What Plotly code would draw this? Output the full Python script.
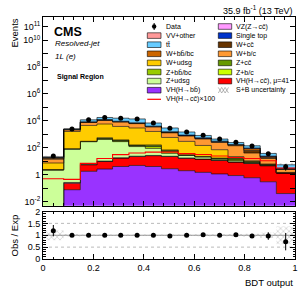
import numpy as np
import plotly.graph_objects as go

# ---------------- data ----------------
bin_edges = [0, 0.082, 0.148, 0.214, 0.276, 0.341, 0.406, 0.470, 0.537,
             0.603, 0.668, 0.734, 0.797, 0.862, 0.926, 1.0]

vh_bb   = [0.0005, 0.077, 1.8, 2.65, 4.1, 4.9, 4.1, 2.8, 2.0, 1.5, 1.15, 0.87, 0.6, 0.3, 0.04]
vh_cc   = [0.001, 0.16, 3.7, 7.0, 13.3, 18, 22, 20, 15, 13, 10.3, 7.9, 6.4, 4.4, 1.3]
vz_cc   = [0.0005, 0.01, 0.1, 0.2, 0.3, 0.4, 0.4, 0.3, 0.2, 0.15, 0.1, 0.08, 0.06, 0.03, 0.005]
vv_oth  = [0.001, 0.02, 0.3, 0.5, 0.6, 0.6, 0.6, 0.4, 0.3, 0.2, 0.15, 0.1, 0.08, 0.05, 0.01]
z_udsg  = [2.2, 80, 280, 410, 270, 100, 63, 15, 10, 6, 2.5, 2, 1, 0.3, 0.05]
z_bc    = [0.1, 3, 5, 40, 30, 15, 30, 15, 1, 1, 1, 1.5, 0.5, 0.2, 0.01]
z_cc    = [0.05, 1, 5, 30, 30, 10, 20, 8, 1, 0.5, 1.5, 3, 0.7, 0.3, 0.01]
z_bb    = [0.1, 2, 10, 70, 40, 15, 24, 8, 1, 0.5, 0.5, 1, 0.5, 0.2, 0.01]
w_udsg  = [5, 1550, 4300, 5300, 3500, 2800, 1480, 520, 270, 127, 55, 6, 1, 0.5, 0.05]
w_bc    = [7, 500, 3000, 5000, 4300, 3300, 1900, 700, 450, 300, 180, 120, 30, 10, 1.0]
w_cc    = [1.5, 100, 400, 800, 500, 400, 250, 120, 60, 45, 30, 15, 25, 3, 0.15]
w_bb    = [3, 150, 300, 500, 400, 250, 100, 70, 30, 30, 15, 12, 25, 3, 0.15]
single_top = [1, 40, 300, 400, 350, 300, 200, 100, 50, 30, 17, 8, 6, 2, 0.2]
ttbar   = [1.0, 100, 3400, 5400, 6500, 6800, 2900, 1400, 610, 275, 135, 72, 45, 14, 2.5]

vhcc_x100 = [0.5, 0.45, 7, 16, 31, 41, 48, 48, 37, 32, 25, 19, 16, 11, 3.2]

data_obs = [25, 2530, 12010, 18000, 16000, 14000, 7000, 2900, 1500, 845, 450, 255, 138, 37, 4]

rel_unc = [0.21, 0.05, 0.03, 0.03, 0.03, 0.03, 0.03, 0.03, 0.03, 0.04, 0.04, 0.05, 0.06, 0.12, 0.38]

# stack order bottom -> top
layers = [
    ("VH(H→bb̄)", vh_bb, "#9933ff"),
    ("VH(H→cc̄), μ=41", vh_cc, "#ff0000"),
    ("VZ(Z→cc̄)", vz_cc, "#ff99ff"),
    ("VV+other", vv_oth, "#ff9999"),
    ("Z+udsg", z_udsg, "#ccff99"),
    ("Z+b/c", z_bc, "#ccff00"),
    ("Z+cc̄", z_cc, "#669900"),
    ("Z+bb̄/bc", z_bb, "#99cc00"),
    ("W+udsg", w_udsg, "#ffcc00"),
    ("W+b/c", w_bc, "#ff9933"),
    ("W+cc̄", w_cc, "#663300"),
    ("W+bb̄/bc", w_bb, "#cc6600"),
    ("Single top", single_top, "#0033cc"),
    ("tt̄", ttbar, "#66ccff"),
]
colors = {n: c for n, _, c in layers}

edges = np.array(bin_edges)
centers = 0.5 * (edges[:-1] + edges[1:])
widths = np.diff(edges)

FONT = "Liberation Sans, Arial, sans-serif"
fig = go.Figure()

# baseline for fills
fig.add_trace(go.Scatter(x=edges, y=np.full(len(edges), 1e-4), mode="lines",
                         line=dict(width=0, shape="hv"), showlegend=False,
                         hoverinfo="skip", xaxis="x", yaxis="y"))
cum = np.zeros(len(centers))
for name, vals, col in layers:
    cum = cum + np.array(vals, dtype=float)
    fig.add_trace(go.Scatter(x=edges, y=np.append(cum, cum[-1]), mode="lines",
                             line=dict(shape="hv", color="black", width=0.6),
                             fill="tonexty", fillcolor=col, name=name,
                             showlegend=False, xaxis="x", yaxis="y"))
total = cum.copy()
unc = np.array(rel_unc)

# signal x100 line
fig.add_trace(go.Scatter(x=edges, y=np.append(vhcc_x100, vhcc_x100[-1]), mode="lines",
                         line=dict(shape="hv", color="#ff0000", width=1.1),
                         showlegend=False, xaxis="x", yaxis="y"))

pattern = dict(shape="x", fgcolor="#777777", bgcolor="rgba(0,0,0,0)", size=4, solidity=0.25)
# S+B uncertainty main
fig.add_trace(go.Bar(x=centers, y=2 * unc * total, base=total * (1 - unc), width=widths,
                     marker=dict(color="rgba(0,0,0,0)", pattern=pattern, line=dict(width=0)),
                     showlegend=False, xaxis="x", yaxis="y", hoverinfo="skip"))

data = np.array(data_obs, dtype=float)
fig.add_trace(go.Scatter(x=centers, y=data, mode="markers",
                         marker=dict(color="black", size=5),
                         error_y=dict(type="data", array=np.sqrt(data), color="black", thickness=1, width=0),
                         showlegend=False, xaxis="x", yaxis="y"))

# ratio panel
fig.add_trace(go.Bar(x=centers, y=2 * unc, base=1 - unc, width=widths,
                     marker=dict(color="rgba(0,0,0,0)", pattern=pattern, line=dict(width=0)),
                     showlegend=False, xaxis="x2", yaxis="y2", hoverinfo="skip"))
ratio = data / total
ratio_err = np.sqrt(data) / total
fig.add_trace(go.Scatter(x=centers, y=ratio, mode="markers",
                         marker=dict(color="black", size=5),
                         error_y=dict(type="data", array=ratio_err, color="black", thickness=1, width=0),
                         showlegend=False, xaxis="x2", yaxis="y2"))

# ---------------- layout ----------------
L, R, T, B, W, H = 43, 12, 17, 36, 307, 295
PW, PH = W - L - R, H - T - B
def PX(px): return (px - L) / PW
def PY(py): return (H - B - py) / PH

main_lo = PY(205.7)
ratio_hi = PY(211.5)

axis_common = dict(showline=True, linecolor="black", linewidth=1, mirror="allticks",
                   ticks="inside", tickcolor="black", showgrid=False, zeroline=False,
                   automargin=False,
                   tickfont=dict(family=FONT, size=9, color="black"))

ytv = [10.0 ** k for k in range(-2, 12)]
ytt = []
for k in range(-2, 12):
    if k == 0:
        ytt.append("1")
    elif k in (-2, 2, 4, 6, 8, 10, 11):
        ytt.append("10<sup>%d</sup>" % k)
    else:
        ytt.append(" ")

fig.update_layout(
    width=W, height=H, margin=dict(l=L, r=R, t=T, b=B, autoexpand=False),
    paper_bgcolor="white", plot_bgcolor="white", barmode="overlay",
    showlegend=False,
    xaxis=dict(domain=[0, 1], anchor="y", range=[0, 1], showticklabels=False,
               tickvals=[0, 0.2, 0.4, 0.6, 0.8, 1.0], ticklen=5,
               minor=dict(dtick=0.04, ticks="inside", ticklen=2.5, tickcolor="black"),
               **axis_common),
    yaxis=dict(domain=[main_lo, 1], anchor="x", type="log", range=[-2.3, 11.72],
               tickvals=ytv, ticktext=ytt, ticklen=5, **axis_common),
    xaxis2=dict(domain=[0, 1], anchor="y2", range=[0, 1],
                tickvals=[0, 0.2, 0.4, 0.6, 0.8, 1.0], ticktext=["0", "0.2", "0.4", "0.6", "0.8", "1"],
                ticklen=5, minor=dict(dtick=0.04, ticks="inside", ticklen=2.5, tickcolor="black"),
                **axis_common),
    yaxis2=dict(domain=[0, ratio_hi], anchor="x2", range=[0, 2],
                tickvals=[0, 0.5, 1, 1.5, 2], ticktext=["0", "0.5", "1", "1.5", "2"], ticklen=5,
                minor=dict(dtick=0.1, ticks="inside", ticklen=2.5, tickcolor="black"),
                **axis_common),
)

shapes = []
# ratio reference lines
shapes.append(dict(type="line", xref="x2", yref="y2", x0=0, x1=1, y0=1, y1=1,
                   line=dict(color="#999999", width=1), layer="below"))
for yv in (0.5, 1.5):
    shapes.append(dict(type="line", xref="x2", yref="y2", x0=0, x1=1, y0=yv, y1=yv,
                       line=dict(color="#aaaaaa", width=0.8, dash="dot"), layer="below"))

annots = []
def txt(x, y, s, size=7, xanchor="left", yanchor="middle", bold=False, italic=False, angle=0):
    if bold:
        s = "<b>%s</b>" % s
    if italic:
        s = "<i>%s</i>" % s
    annots.append(dict(x=PX(x), y=PY(y), xref="paper", yref="paper", text=s, showarrow=False,
                       xanchor=xanchor, yanchor=yanchor, textangle=angle,
                       font=dict(family=FONT, size=size, color="black")))

# legend
row_y0, row_dy = 26.5, 9.1
c1_sw, c1_tx = (147.3, 161.0), 163.5
c2_sw, c2_tx = (218.3, 231.7), 233.5
sh = 2.8
col1 = ["Data", "VV+other", "tt̄", "W+bb̄/bc", "W+udsg", "Z+bb̄/bc", "Z+udsg", "VH(H→bb̄)", "VH(H→cc̄)×100"]
col2 = ["VZ(Z→cc̄)", "Single top", "W+cc̄", "W+b/c", "Z+cc̄", "Z+b/c", "VH(H→cc̄), μ=41", "S+B uncertainty"]

def swatch(sw, yc, name):
    x0, x1 = sw
    if name == "Data":
        xm = 0.5 * (x0 + x1)
        r = 2.2
        shapes.append(dict(type="circle", xref="paper", yref="paper", x0=PX(xm - r), x1=PX(xm + r),
                           y0=PY(yc + r), y1=PY(yc - r), fillcolor="black", line=dict(width=0)))
        shapes.append(dict(type="line", xref="paper", yref="paper", x0=PX(xm), x1=PX(xm),
                           y0=PY(yc + 3.5), y1=PY(yc - 3.5), line=dict(color="black", width=1)))
    elif name == "VH(H→cc̄)×100":
        shapes.append(dict(type="line", xref="paper", yref="paper", x0=PX(x0), x1=PX(x1),
                           y0=PY(yc), y1=PY(yc), line=dict(color="#ff0000", width=1.2)))
    elif name == "S+B uncertainty":
        step = 3.4
        xs = x0
        while xs + step <= x1 + 0.01:
            for (a, b) in (((xs, yc - sh), (xs + step, yc + sh)), ((xs, yc + sh), (xs + step, yc - sh))):
                shapes.append(dict(type="line", xref="paper", yref="paper", x0=PX(a[0]), y0=PY(a[1]),
                                   x1=PX(b[0]), y1=PY(b[1]), line=dict(color="#888888", width=0.6)))
            xs += step
    else:
        shapes.append(dict(type="rect", xref="paper", yref="paper", x0=PX(x0), x1=PX(x1),
                           y0=PY(yc + sh), y1=PY(yc - sh), fillcolor=colors[name],
                           line=dict(color="black", width=0.6)))

for i, n in enumerate(col1):
    yc = row_y0 + i * row_dy
    swatch(c1_sw, yc, n)
    txt(c1_tx, yc, n, size=7)
for i, n in enumerate(col2):
    yc = row_y0 + i * row_dy
    swatch(c2_sw, yc, n)
    txt(c2_tx, yc, n, size=7)

# header texts
txt(52, 32.5, "CMS", size=12.5, bold=True)
txt(53, 44, "Resolved-jet", size=8, italic=True)
txt(53, 56, "1L (e)", size=8, italic=True)
txt(54.5, 77, "Signal Region", size=7, bold=True)
txt(295, 10, "35.9 fb<sup>-1</sup> (13 TeV)", size=9, xanchor="right")
txt(14, 17, "Events", size=9.5, angle=-90, xanchor="center", yanchor="top")
txt(14, 235.5, "Obs / Exp", size=9.5, angle=-90, xanchor="center", yanchor="middle")
txt(295, 282.5, "BDT output", size=9.5, xanchor="right")

fig.update_layout(shapes=shapes, annotations=annots)
fig.write_html("out.html", config={"displayModeBar": False},
               post_script="document.body.style.margin='0';document.body.style.padding='0';")
